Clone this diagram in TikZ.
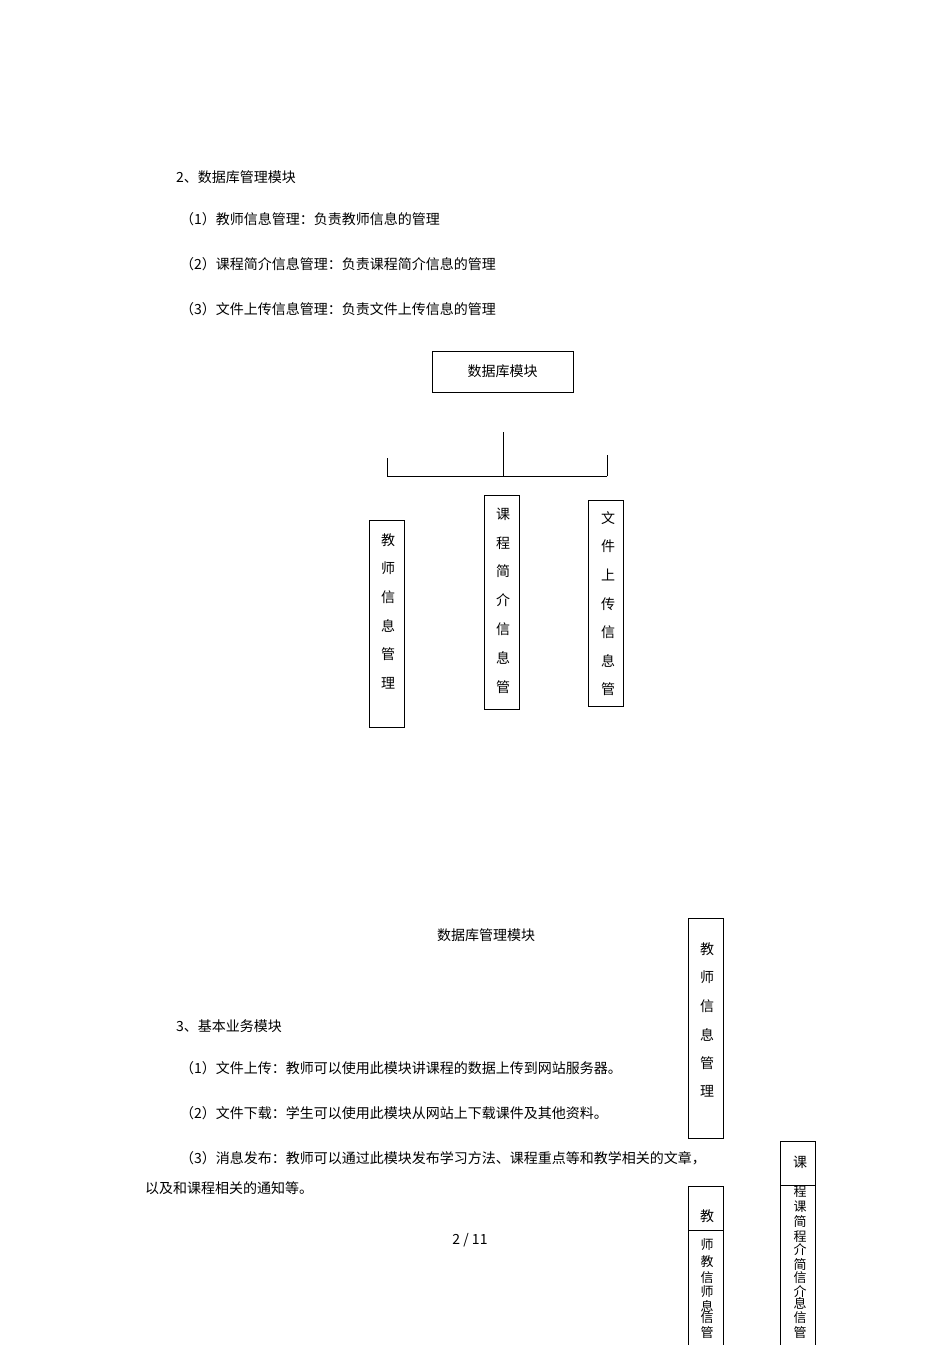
\documentclass[tikz,border=0pt]{standalone}
\usepackage{fontspec}
\setmainfont{Noto Sans CJK SC}
\begin{document}
\begin{tikzpicture}[x=1pt,y=-1pt,
  every node/.style={font=\fontsize{14}{16}\selectfont, inner sep=0pt},
  box/.style={draw, line width=0.9pt},
  sm/.style={font=\fontsize{13}{14}\selectfont}]
\useasboundingbox[fill=white] (0,0) rectangle (950,1345);
\node[anchor=west] (h2) at (176,177) {2、数据库管理模块};
\node[anchor=west] (l1) at (180,219) {（1）教师信息管理：负责教师信息的管理};
\node[anchor=west] (l2) at (180,264) {（2）课程简介信息管理：负责课程简介信息的管理};
\node[anchor=west] (l3) at (180,309) {（3）文件上传信息管理：负责文件上传信息的管理};
\draw[box] (432,351) rectangle (573,392);
\node (top) at (502.5,371) {数据库模块};
\coordinate (c0) at (503,432);
\coordinate (c1) at (503,476);
\coordinate (cl) at (387,476);
\coordinate (cr) at (607,476);
\draw[line width=0.9pt] (c0) -- (c1) (cl) -- (cr) (cl) -- ++(0,-18) (cr) -- ++(0,-21);
\draw[box] (369,520) rectangle (404,727);
\foreach \c [count=\i from 0] in {教,师,信,息,管,理} \node (a\i) at (388,540+28.6*\i) {\c};
\draw[box] (484,495) rectangle (519,709);
\foreach \c [count=\i from 0] in {课,程,简,介,信,息,管} \node (b\i) at (503,514+28.8*\i) {\c};
\draw[box] (588,500) rectangle (623,706);
\foreach \c [count=\i from 0] in {文,件,上,传,信,息,管} \node (d\i) at (608,518+28.6*\i) {\c};
\node (cap) at (486,935) {数据库管理模块};
\draw[box] (688,918) rectangle (723,1138);
\foreach \c [count=\i from 0] in {教,师,信,息,管,理} \node (e\i) at (707,949+28.5*\i) {\c};
\node[anchor=west] (h3) at (176,1026) {3、基本业务模块};
\node[anchor=west] (m1) at (180,1068) {（1）文件上传：教师可以使用此模块讲课程的数据上传到网站服务器。};
\node[anchor=west] (m2) at (180,1113) {（2）文件下载：学生可以使用此模块从网站上下载课件及其他资料。};
\node[anchor=west] (m3) at (180,1158) {（3）消息发布：教师可以通过此模块发布学习方法、课程重点等和教学相关的文章，};
\node[anchor=west] (m4) at (145,1188) {以及和课程相关的通知等。};
\node (pg) at (470,1240) {2 / 11};
\draw[box] (688,1186) -- (688,1345) (723,1186) -- (723,1345) (688,1186) -- (723,1186) (688,1230) -- (723,1230);
\node (f0) at (707,1216) {教};
\foreach \c/\y in {师/1245,教/1262,信/1278,师/1292,息/1306,信/1318,管/1333} \node[sm] at (707,\y) {\c};
\draw[box] (780,1141) -- (780,1345) (815,1141) -- (815,1345) (780,1141) -- (815,1141) (780,1185) -- (815,1185);
\node (g0) at (800,1162) {课};
\foreach \c/\y in {程/1192,课/1207,简/1222,程/1237,介/1250,简/1265,信/1278,介/1292,息/1303,信/1318,管/1333} \node[sm] at (800,\y) {\c};
\end{tikzpicture}
\end{document}
